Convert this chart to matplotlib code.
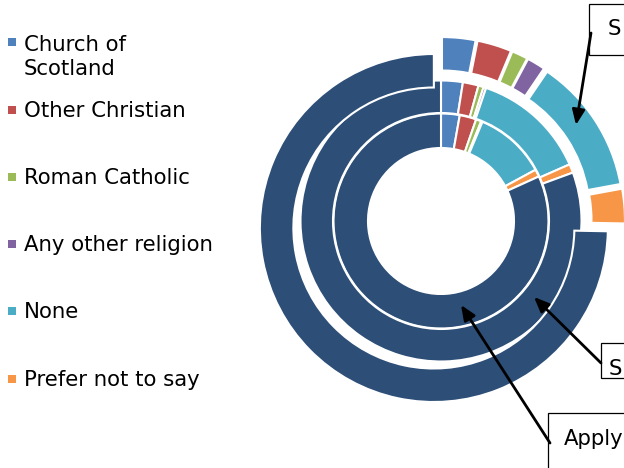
import matplotlib
matplotlib.use('Agg')
import matplotlib.pyplot as plt
from matplotlib.patches import Rectangle

W, H = 624, 468

# legend categories (dark navy slice = not stated, not in the legend)
labels = ['Church of\nScotland', 'Other Christian', 'Roman Catholic',
          'Any other religion', 'None', 'Prefer not to say']
colors = ['#4F81BD', '#C0504D', '#9BBB59', '#8064A2', '#4BACC6', '#F79646', '#2C4E77']

# shares (%) per ring, last value = navy slice
inner  = [2.8, 2.5, 0.8, 0.2, 10.8, 1.1, 81.8]
middle = [2.5, 1.8, 0.6, 0.3, 13.2, 1.0, 80.6]
outer  = [3.1, 3.2, 1.5, 1.7, 12.6, 3.2, 74.7]

box_texts = ['S', 'S', 'Apply']

FS = 15.3


def py(y):
    # image-style y (top = 0) -> data y
    return H - y


fig = plt.figure(figsize=(W / 100, H / 100), dpi=100)
ax = fig.add_axes([0, 0, 1, 1])
ax.set_axis_off()

cx, cy = 441, py(221)
wp = dict(edgecolor='white', linewidth=1.5)

ax.pie(inner, colors=colors, radius=107.5, center=(cx, cy), startangle=90,
       counterclock=False, wedgeprops=dict(width=34.5, **wp))
ax.pie(middle, colors=colors, radius=140.5, center=(cx, cy), startangle=90,
       counterclock=False, wedgeprops=dict(width=32.5, **wp))
ax.pie(outer, colors=colors, radius=174, center=(cx, cy), startangle=90,
       counterclock=False, explode=[10] * len(outer),
       wedgeprops=dict(width=33.5, **wp))

ax.set_xlim(0, W)
ax.set_ylim(0, H)
ax.set_aspect('equal')

# legend on the left (baseline of first line of each entry)
baselines = [49, 117, 184, 251, 318, 386]
for lab, col, yb in zip(labels, colors, baselines):
    ax.add_patch(Rectangle((8, py(yb - 3)), 8, 8, color=col, lw=0))
    nlines = lab.count('\n')
    ax.text(24, py(yb + 26 * nlines), lab, fontsize=FS, va='baseline', ha='left',
            linespacing=1.22, color='black')

# callout boxes (cut by the right edge) + arrows
boxes = [(589, 4, 80, 51), (601, 343, 60, 35), (548, 413, 120, 60)]
text_pos = [(608, 35), (609, 375), (564, 445)]
arrows = [((591, 33), (576, 125)), ((601, 363), (534, 297)), ((550, 443), (461, 305))]

for (bx, by, bw, bh), t, (tx, ty) in zip(boxes, box_texts, text_pos):
    ax.add_patch(Rectangle((bx, py(by + bh)), bw, bh, fill=True, fc='white',
                           ec='black', lw=0.9, zorder=5))
    ax.text(tx, py(ty), t, fontsize=FS, va='baseline', ha='left', zorder=6)

for (x0, y0), (x1, y1) in arrows:
    ax.annotate('', xy=(x1, py(y1)), xytext=(x0, py(y0)),
                arrowprops=dict(arrowstyle='-|>,head_length=0.9,head_width=0.38',
                                lw=2, color='black', shrinkA=0, shrinkB=0),
                zorder=7)

fig.savefig('out.png', dpi=100)
